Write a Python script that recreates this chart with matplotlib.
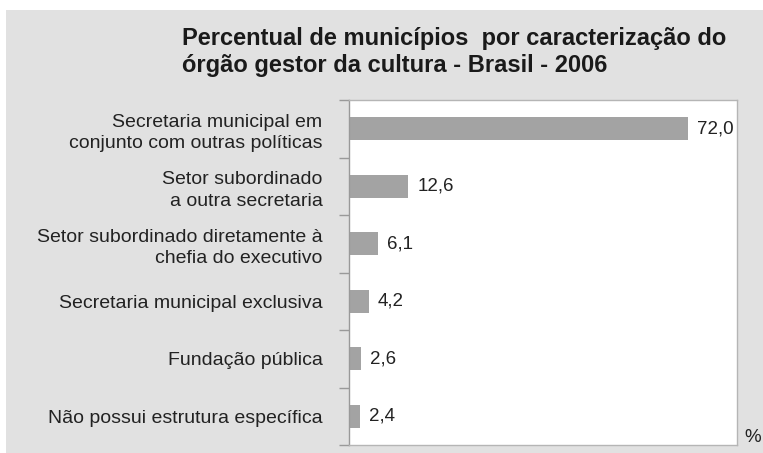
import matplotlib.pyplot as plt
from matplotlib.patches import Rectangle

# Dados
categorias = [
    "Secretaria municipal em\nconjunto com outras políticas",
    "Setor subordinado\na outra secretaria",
    "Setor subordinado diretamente à\nchefia do executivo",
    "Secretaria municipal exclusiva",
    "Fundação pública",
    "Não possui estrutura específica",
]
valores = [72.0, 12.6, 6.1, 4.2, 2.6, 2.4]
rotulos = ["72,0", "12,6", "6,1", "4,2", "2,6", "2,4"]

W, H = 763, 453
fig = plt.figure(figsize=(W / 100, H / 100), dpi=100)
fig.patch.set_facecolor("white")

# fundo cinza
fig.patches.append(Rectangle((6 / W, 0), 1, 1 - 10 / H, transform=fig.transFigure,
                             facecolor="#e1e1e1", edgecolor="none", zorder=-10))

left, right, top, bottom = 349, 737, 100, 445
ax = fig.add_axes([left / W, 1 - bottom / H, (right - left) / W, (bottom - top) / H])
ax.set_facecolor("white")

n = len(categorias)
pos = list(range(n))
ax.barh(pos, valores, height=0.4, color="#a3a3a3", edgecolor="none")
ax.set_xlim(0, 82.4)
ax.set_ylim(n - 0.5, -0.5)

for p, v, r in zip(pos, valores, rotulos):
    ax.text(v + 1.9, p, r, va="center", ha="left", fontsize=13.5,
            family="Liberation Sans", color="#222222")

ax.set_yticks(pos)
ax.set_yticklabels(categorias, fontsize=14, family="Liberation Sans",
                   color="#222222", ha="right", linespacing=1.35)
ax.tick_params(axis="y", length=0, pad=19)
ax.set_yticks([p + 0.5 for p in range(-1, n)], minor=True)
ax.tick_params(axis="y", which="minor", length=7, color="#999999", width=1)
ax.set_xticks([])

for s in ax.spines.values():
    s.set_color("#b5b5b5")
    s.set_linewidth(1)
ax.spines["left"].set_color("#999999")

# título
fig.text(182 / W, 1 - 45 / H, "Percentual de municípios  por caracterização do",
         fontsize=17, fontweight="bold", family="Liberation Sans",
         color="#1a1a1a", va="baseline", ha="left")
fig.text(182 / W, 1 - 72 / H, "órgão gestor da cultura - Brasil - 2006",
         fontsize=17, fontweight="bold", family="Liberation Sans",
         color="#1a1a1a", va="baseline", ha="left")

fig.text(744 / W, 1 - 437 / H, "%", fontsize=13.5, family="Liberation Sans",
         color="#222222", va="center", ha="left")

fig.savefig("out.png", dpi=100)
